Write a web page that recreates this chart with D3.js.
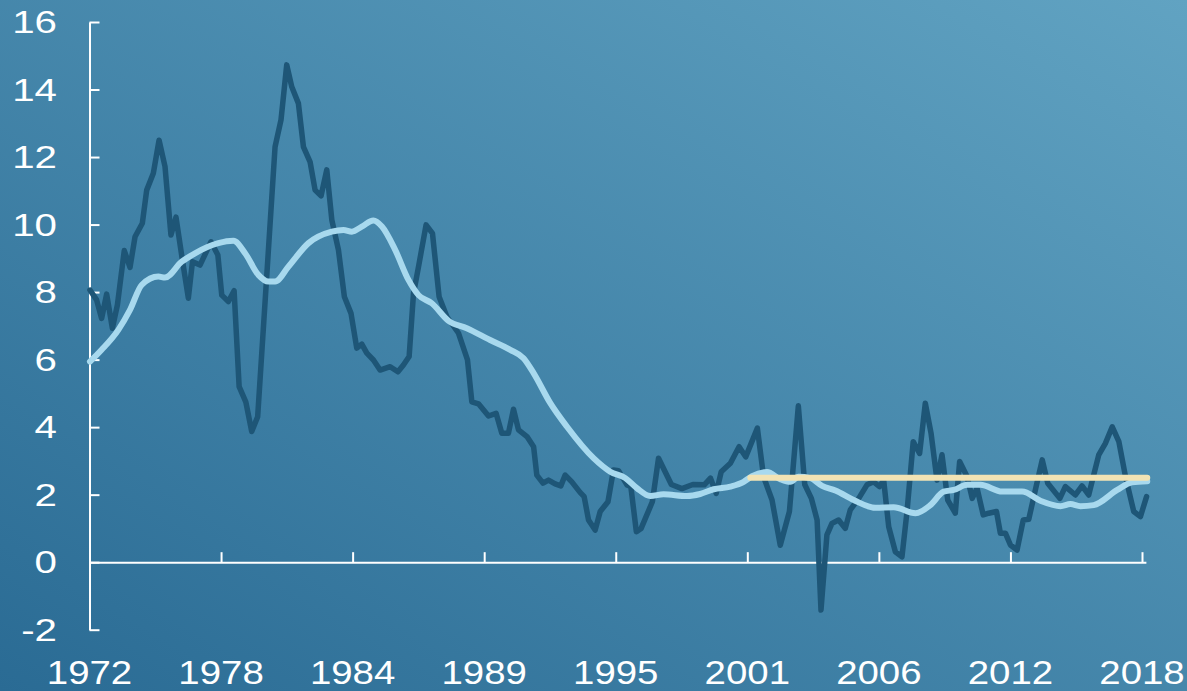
<!DOCTYPE html>
<html>
  <head>
    <meta charset="utf-8">
    <script src="https://cdn.jsdelivr.net/npm/d3@7"></script>
    <style>
     html, body { margin: 0; padding: 0; }
     svg { display: block; }
     .axis path, .axis line { stroke: #fff; stroke-width: 2px; }
     .lbl { fill: #fff; font-family: "Liberation Sans", Arial, sans-serif; }
     .inflation, .trend, .target { fill: none; stroke-linejoin: round; stroke-linecap: round; }
     .inflation { stroke: #1e5677; stroke-width: 5.5px; }
     .trend { stroke: #a8d9ee; stroke-width: 6px; }
     .target { stroke: #f2e3b4; stroke-width: 6px; }
    </style>
  </head>
  <body>
    <svg id="chart" width="1187" height="691"></svg>
    <script>
     // tick positions (quarterly spacing of 23 quarters) and their labels
     var tickYears = [1972, 1977.75, 1983.5, 1989.25, 1995, 2000.75, 2006.5, 2012.25, 2018];
     var tickLabels = ["1972", "1978", "1984", "1989", "1995", "2001", "2006", "2012", "2018"];
     var yTicks = [-2, 0, 2, 4, 6, 8, 10, 12, 14, 16];

     // dark series: [year, value]
     var inflation = [
       [1972.02, 8.06], [1972.31, 7.77], [1972.53, 7.22], [1972.75, 7.94], [1973.00, 6.93],
       [1973.22, 7.62], [1973.52, 9.23], [1973.77, 8.73], [1973.99, 9.64], [1974.31, 10.04],
       [1974.50, 11.02], [1974.79, 11.52], [1975.04, 12.5], [1975.30, 11.72], [1975.56, 9.69],
       [1975.78, 10.22], [1976.06, 8.95], [1976.32, 7.82], [1976.50, 8.9], [1976.83, 8.8],
       [1977.31, 9.49], [1977.61, 9.1], [1977.78, 7.91], [1978.07, 7.72], [1978.32, 8.04],
       [1978.54, 5.2], [1978.83, 4.75], [1979.09, 3.87], [1979.35, 4.31], [1980.11, 12.3],
       [1980.37, 13.1], [1980.62, 14.73], [1980.84, 14.08], [1981.13, 13.59], [1981.35, 12.3],
       [1981.64, 11.86], [1981.86, 11.02], [1982.12, 10.85], [1982.37, 11.62], [1982.59, 10.14],
       [1982.88, 9.25], [1983.14, 7.86], [1983.43, 7.37], [1983.68, 6.34], [1983.90, 6.46],
       [1984.12, 6.19], [1984.41, 5.99], [1984.70, 5.69], [1985.14, 5.79], [1985.48, 5.64],
       [1985.72, 5.84], [1985.97, 6.09], [1986.16, 7.96], [1986.38, 8.75], [1986.71, 9.99],
       [1986.99, 9.74], [1987.28, 7.86], [1987.62, 7.27], [1988.13, 6.78], [1988.52, 5.99],
       [1988.71, 4.75], [1989.00, 4.69], [1989.44, 4.33], [1989.77, 4.41], [1990.02, 3.82],
       [1990.31, 3.82], [1990.53, 4.53], [1990.75, 3.92], [1991.12, 3.72], [1991.41, 3.42],
       [1991.55, 2.58], [1991.82, 2.34], [1992.06, 2.43], [1992.35, 2.32], [1992.60, 2.26],
       [1992.79, 2.58], [1993.08, 2.38], [1993.45, 2.06], [1993.62, 1.94], [1993.81, 1.25],
       [1994.10, 0.95], [1994.32, 1.5], [1994.66, 1.79], [1994.90, 2.73], [1995.12, 2.71],
       [1995.49, 2.29], [1995.66, 2.24], [1995.90, 0.9], [1996.11, 1.0], [1996.60, 1.79],
       [1996.87, 3.08], [1997.43, 2.3], [1997.89, 2.18], [1998.37, 2.3], [1998.87, 2.29],
       [1999.14, 2.49], [1999.39, 2.04], [1999.61, 2.68], [2000.01, 2.93], [2000.39, 3.42],
       [2000.68, 3.12], [2001.19, 3.97], [2001.46, 2.53], [2001.83, 1.84], [2002.19, 0.5],
       [2002.59, 1.5], [2002.98, 4.63], [2003.26, 2.3], [2003.55, 1.89], [2003.80, 1.25],
       [2003.97, -1.42], [2004.23, 0.81], [2004.45, 1.15], [2004.74, 1.25], [2005.03, 1.0],
       [2005.25, 1.55], [2005.62, 1.89], [2005.98, 2.29], [2006.27, 2.38], [2006.53, 2.24],
       [2006.71, 2.43], [2006.93, 1.05], [2007.22, 0.31], [2007.51, 0.16], [2007.73, 1.5],
       [2008.00, 3.57], [2008.28, 3.22], [2008.53, 4.71], [2008.78, 3.82], [2009.04, 2.43],
       [2009.26, 3.18], [2009.51, 1.84], [2009.84, 1.45], [2010.03, 2.98], [2010.36, 2.53],
       [2010.58, 1.89], [2010.79, 2.19], [2011.06, 1.4], [2011.30, 1.45], [2011.64, 1.5],
       [2011.81, 0.86], [2012.03, 0.86], [2012.25, 0.51], [2012.54, 0.36], [2012.81, 1.25],
       [2013.05, 1.27], [2013.34, 2.14], [2013.64, 3.03], [2013.88, 2.34], [2014.41, 1.89],
       [2014.65, 2.24], [2015.09, 1.99], [2015.38, 2.26], [2015.67, 1.99], [2016.11, 3.18],
       [2016.40, 3.52], [2016.70, 4.01], [2016.99, 3.57], [2017.28, 2.53], [2017.64, 1.5],
       [2017.93, 1.35], [2018.20, 1.94]
     ];

     // light series (smoothed average): [year, value]
     var trend = [
       [1972.02, 5.94], [1972.53, 6.29], [1973.26, 6.88], [1973.77, 7.47], [1974.28, 8.21],
       [1975.01, 8.46], [1975.30, 8.43], [1976.03, 8.9], [1976.61, 9.15], [1977.63, 9.45],
       [1978.29, 9.52], [1978.80, 9.15], [1979.38, 8.51], [1979.82, 8.31], [1980.11, 8.31],
       [1980.69, 8.75], [1981.57, 9.45], [1982.59, 9.79], [1983.10, 9.84], [1983.47, 9.79],
       [1983.90, 9.94], [1984.41, 10.12], [1984.78, 9.94], [1985.36, 9.25], [1985.94, 8.36],
       [1986.38, 7.91], [1986.96, 7.67], [1987.69, 7.15], [1988.49, 6.93], [1989.51, 6.58],
       [1990.39, 6.29], [1990.97, 6.04], [1991.41, 5.6], [1992.14, 4.71], [1992.87, 4.01],
       [1994.03, 3.08], [1994.76, 2.68], [1995.42, 2.49], [1995.93, 2.19], [1996.51, 1.96],
       [1997.09, 2.01], [1998.11, 1.96], [1998.69, 2.02], [1999.28, 2.16], [2000.01, 2.24],
       [2000.59, 2.38], [2000.96, 2.55], [2001.61, 2.67], [2002.19, 2.46], [2002.63, 2.38],
       [2002.99, 2.53], [2003.50, 2.49], [2004.02, 2.26], [2004.60, 2.12], [2005.40, 1.84],
       [2006.35, 1.61], [2007.15, 1.63], [2008.10, 1.45], [2008.75, 1.69], [2009.33, 2.09],
       [2009.77, 2.14], [2010.36, 2.29], [2010.94, 2.29], [2011.89, 2.09], [2012.76, 2.09],
       [2013.56, 1.82], [2014.44, 1.66], [2014.87, 1.72], [2015.31, 1.66], [2015.89, 1.69],
       [2016.92, 2.14], [2017.57, 2.37], [2018.23, 2.4]
     ];

     // flat reference level
     var target = [[2000.88, 2.5], [2018.23, 2.5]];

     var svg = d3.select("#chart");
     var width = 1187, height = 691;

     var x = d3.scaleLinear().domain([1972, 2018]).range([89.5, 1142]);
     var y = d3.scaleLinear().domain([-2, 16]).range([629.7, 22]);

     // background gradient
     var grad = svg.append("defs").append("linearGradient")
                   .attr("id", "bg")
                   .attr("x1", 0).attr("y1", 1).attr("x2", 1).attr("y2", 0);
     grad.append("stop").attr("offset", "0%").attr("stop-color", "#2a6b94");
     grad.append("stop").attr("offset", "100%").attr("stop-color", "#61a3c2");
     svg.append("rect").attr("width", width).attr("height", height).attr("fill", "url(#bg)");

     // y axis, ticks pointing inwards
     var yAxis = d3.axisLeft(y).tickValues(yTicks).tickSizeInner(-10).tickSizeOuter(0).tickFormat("");
     svg.append("g").attr("class", "axis")
        .attr("transform", "translate(" + x(1972) + ",0)")
        .call(yAxis);

     // x axis along zero, ticks pointing up
     var xEnd = 2018.17;
     var xa = x.copy().domain([1972, xEnd]).range([x(1972), x(xEnd)]);
     var xAxis = d3.axisBottom(xa).tickValues(tickYears).tickSizeInner(-10).tickSizeOuter(0).tickFormat("");
     svg.append("g").attr("class", "axis")
        .attr("transform", "translate(0," + y(0) + ")")
        .call(xAxis);

     svg.selectAll(".axis text").remove();

     // y labels
     svg.append("g").selectAll("text")
        .data(yTicks)
        .enter().append("text")
        .attr("class", "lbl")
        .attr("transform", function(d) { return "translate(57," + y(d) + ") scale(1.3,1)"; })
        .attr("text-anchor", "end")
        .attr("dy", "0.36em")
        .style("font-size", "31px")
        .text(function(d) { return d; });

     // x labels along the bottom
     svg.append("g").selectAll("text")
        .data(tickYears)
        .enter().append("text")
        .attr("class", "lbl")
        .attr("transform", function(d) { return "translate(" + x(d) + ",684) scale(1.13,1)"; })
        .attr("text-anchor", "middle")
        .style("font-size", "34px")
        .text(function(d, i) { return tickLabels[i]; });

     var line = d3.line()
                  .x(function(d) { return x(d[0]); })
                  .y(function(d) { return y(d[1]); });

     svg.append("path").datum(inflation).attr("class", "inflation").attr("d", line);
     svg.append("path").datum(trend).attr("class", "trend")
        .attr("d", line.curve(d3.curveMonotoneX));
     svg.append("path").datum(target).attr("class", "target")
        .attr("d", line.curve(d3.curveLinear));
    </script>
  </body>
</html>
